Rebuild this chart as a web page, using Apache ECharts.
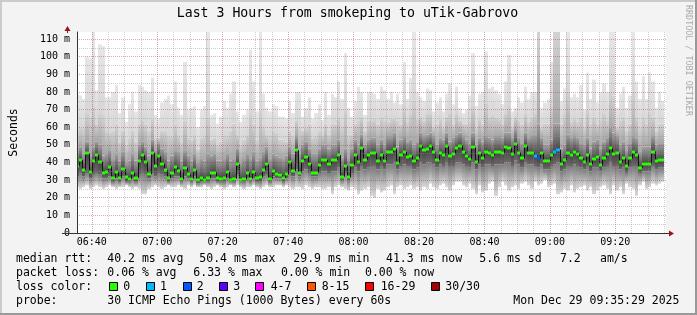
<!DOCTYPE html>
<html><head><meta charset="utf-8">
<script src="https://cdn.jsdelivr.net/npm/echarts@6/dist/echarts.min.js"></script>
<style>html,body{margin:0;padding:0;background:#f3f3f3;}#c{width:697px;height:315px;}</style>
</head><body><div id="c"></div>
<script>
// ---------------- data ----------------
const firstSampleMinute = 6 * 60 + 35;          // 06:35 (each sample = 60 s)
const viewStart = 6 * 60 + 35 + 29 / 60;        // 06:35:29
const viewEnd = 9 * 60 + 35 + 29 / 60;          // 09:35:29

const medianRtt = [
 38,41.5,35.8,45.3,34.5,40.7,44.3,40.4,34.3,34.7, 37.7,31.3,34.5,31.1,36.2,31.6,30.7,34.1,31.3,40.7, 44,40.4,33.4,45.5,37.9,43.4,39.2,35.8,31.1,34.1,
 37.3,35.4,30.5,37,33.7,30.9,35.6,29.8,31.3,30.3, 31.1,34.3,34.3,31.3,30.9,31.3,34.7,30.1,30.9,39.2, 30.1,30.5,34.1,30.9,34.5,31.3,31.6,35.6,39,30.7,
 35,33.7,32.8,31.3,33.2,40,35,47,34.3,41.1, 43.2,39.2,34.3,34.3,38.7,41.5,41.3,39.2,41.3,41.5, 44.2,32,38.1,31.5,38.8,44,40,48,41.5,44,
 45.3,45.3,41.1,44.5,40.7,45.9,45.9,47.8,39.8,44.2, 46,43,43.8,40.7,42.6,49.1,47,47.8,49.1,46, 41.5,45.3,44.5,49.1,43.8,44.9,48,49.5,45.9,43.8,
 42,48.5,40,45.3,42.6,46,45.5,44,46,46, 45.5,48.7,48.1,44.9,50.4,45.5,42.4,49.3,45.3,45.3, 43.8,42.3,45.1,41.1,41.1,44.3,46,47.2,39.2,41.3,
 45.5,44.5,46,44.9,42.3,40.2,44.5,39,42,43.2, 38.3,42.8,44.9,48,44.7,45.5,40,42.3,38.1,42.3, 45.7,44.5,37,39.4,39.4,39.4,46.2,40.6,41.3,41.3
];
const minRtt = [
 26,25,26,27,25,26,27,26,25,26, 27,26,25,26,26,27,26,25,26,25, 22,22,25,26,27,26,25,26,27,26,
 26,27,26,25,27,26,27,26,26,27, 26,25,26,27,26,25,26,27,26,27, 26,25,26,26,27,26,25,26,27,26,
 26,27,27,26,27,26,25,26,26,25, 27,26,25,26,26,25,25,26,22,26, 27,26,25,24,26,25,22,24,25,26,
 21,20,25,23,24,26,27,22,26,27, 25,26,27,25,26,24,26,25,28,26, 25,27,28,26,24,27,29,29,27,26,
 28,25,22,27,23,24,28,29,21,26, 29,27,24,26,27,25,28,29,27,25, 29,27,28,30,26,27,28,22,23,25,
 24,27,23,25,26,27,24,26,22,24, 26,27,25,22,27,24,26,22,28,26, 25,21,27,29,25,26,28,27,28,29
];
const p25Rtt = [
 32,34,32,34,31,33,34,33,31,31, 32,29,31,29,32,29,29,31,29,33, 34,33,31,34,32,34,33,32,29,31,
 32,32,29,32,31,29,32,28,29,29, 29,31,31,29,29,29,31,29,29,33, 29,29,31,29,31,29,29,32,33,29,
 32,31,31,29,31,34,32,36,32,35, 36,34,32,32,34,35,35,34,35,35, 37,30,34,30,34,37,35,38,36,37,
 38,38,36,38,36,39,39,40,36,38, 39,38,38,36,37,40,39,40,40,39, 37,39,38,40,38,38,40,40,39,38,
 37,40,36,39,37,39,39,38,39,39, 39,40,40,38,41,39,37,40,39,39, 38,37,39,36,36,38,39,40,35,36,
 38,38,39,38,37,36,38,35,37,37, 35,37,38,40,38,38,36,37,34,37, 38,38,34,35,35,35,38,36,37,37
];
const p75Rtt = [
 46,49,45,52,44,49,52,50,44,45, 47,42,45,41,46,40,41,45,41,50, 52,49,44,53,47,51,48,46,41,44,
 47,46,41,47,44,41,45,40,42,41, 45,44,45,41,41,42,45,41,42,48, 40,42,45,42,46,41,43,46,49,42,
 45,44,43,42,44,49,45,55,45,50, 52,48,45,45,48,50,50,48,50,50, 53,43,48,42,48,53,50,56,50,53,
 54,54,50,53,50,55,55,57,49,53, 55,52,53,50,52,57,55,56,57,55, 50,54,53,57,52,54,56,57,55,53,
 51,57,50,54,52,55,54,53,55,55, 54,57,57,54,59,54,51,57,54,55, 56,62,54,50,50,53,62,62,48,50,
 56,54,55,54,51,50,54,48,52,53, 48,52,54,60,57,55,50,52,47,51, 55,54,46,49,49,49,55,50,51,51
];
const p90Rtt = [
 58,60,60,68,66,72,62,68,67,58, 57,58,62,52,58,50,54,58,52,62, 64,62,58,65,54,54,58,58,56,55,
 62,56,52,64,54,53,56,48,54,55, 66,53,54,50,52,55,55,58,62,56, 50,53,56,68,62,53,70,60,56,55,
 58,57,53,53,52,58,55,64,60,58, 60,62,54,55,58,56,62,56,62,62, 66,60,70,56,56,62,64,66,58,64,
 64,65,62,66,64,63,65,65,64,62, 72,63,68,75,65,66,64,68,68,60, 62,65,60,66,68,62,68,64,62,62,
 63,72,60,65,62,74,66,67,66,65, 62,68,72,60,66,64,62,68,63,66, 68,114,60,62,62,72,114,114,62,68,
 80,63,65,63,66,60,70,62,66,62, 64,68,64,80,78,60,64,66,58,62, 80,66,60,66,62,68,66,58,62,62
];
const maxRtt = [
 79,78,76,100,99,114,81,107,106,77, 77,80,84,68,77,63,73,80,69,84, 83,81,80,88,67,65,74,76,78,73,
 86,71,67,97,70,71,72,60,70,72, 114,67,68,62,66,75,71,79,86,69, 63,67,70,104,86,69,114,79,71,69,
 73,72,66,66,65,75,68,80,80,66, 71,77,65,68,73,64,80,67,79,77, 86,76,102,71,66,75,83,80,67,80,
 80,79,76,83,81,76,80,74,79,73, 97,76,88,114,80,77,75,82,81,69, 74,77,69,79,85,73,83,71,68,70,
 78,102,72,79,80,103,82,83,81,79, 73,86,101,69,71,77,74,83,76,80, 80,114,71,74,76,97,114,114,75,82,
 114,77,79,77,84,70,91,76,87,74, 80,85,80,114,114,71,79,83,71,78, 114,86,76,89,76,91,86,71,80,75
];
// samples with lost pings (index into the arrays) and how many pings were lost
const lossSampleIndex = [140, 141, 146, 147];
const lossSampleCount = [1, 2, 1, 1];

const xTickMinutes = [400, 420, 440, 460, 480, 500, 520, 540, 560];
const xTickLabels = ['06:40','07:00','07:20','07:40','08:00','08:20','08:40','09:00','09:20'];
const yTicks = [0, 10, 20, 30, 40, 50, 60, 70, 80, 90, 100, 110];
const yTickLabels = ['0','10 m','20 m','30 m','40 m','50 m','60 m','70 m','80 m','90 m','100 m','110 m'];

const lossLegendLabels = ['0','1','2','3','4-7','8-15','16-29','30/30'];
const lossLegendColors = ['#26ff00','#00b8ff','#0059ff','#5e00ff','#ff00fe','#ff5500','#ff0000','#a10000'];
const statRow1 = ['median rtt:','40.2 ms avg','50.4 ms max','29.9 ms min','41.3 ms now','5.6 ms sd','7.2','am/s'];
const statRow2 = ['packet loss:','0.06 % avg','6.33 % max','0.00 % min','0.00 % now'];
const probeRow = ['probe:','30 ICMP Echo Pings (1000 Bytes) every 60s','Mon Dec 29 09:35:29 2025'];
const titleText = 'Last 3 Hours from smokeping to uTik-Gabrovo';

// ---------------- build ----------------
const MONO = 'DejaVu Sans Mono';
function lossColor(n) {
  if (n <= 0) return lossLegendColors[0];
  if (n === 1) return lossLegendColors[1];
  if (n === 2) return lossLegendColors[2];
  if (n === 3) return lossLegendColors[3];
  if (n <= 7) return lossLegendColors[4];
  if (n <= 15) return lossLegendColors[5];
  if (n <= 29) return lossLegendColors[6];
  return lossLegendColors[7];
}
const lossBySample = medianRtt.map(() => 0);
lossSampleIndex.forEach((idx, k) => { lossBySample[idx] = lossSampleCount[k]; });

const smokeData = medianRtt.map((m, i) => {
  const t0 = firstSampleMinute + i, t1 = t0 + 1;
  const lo = Math.min(minRtt[i], m);
  const q1 = Math.min(Math.max(p25Rtt[i], lo), m);
  const q3 = Math.max(p75Rtt[i], m);
  const q9 = Math.max(p90Rtt[i], q3);
  const hi = Math.max(maxRtt[i], q9);
  return [t0, t1, lo, q1, m, q3, q9, hi];
});
const medData = medianRtt.map((m, i) => [firstSampleMinute + i, firstSampleMinute + i + 1, m, i > 0 ? medianRtt[i - 1] : m, lossBySample[i]]);

const G = echarts.graphic;
const grad = (top, bottom) => new G.LinearGradient(0, 0, 0, 1, [{offset: 0, color: top}, {offset: 1, color: bottom}]);
const bandFills = [
  grad('#7a7a7a', '#dadada'),  // min -> p25
  grad('#424242', '#6a6a6a'),  // p25 -> median
  grad('#a2a2a2', '#484848'),  // median -> p75
  grad('#d2d2d2', '#a6a6a6'),  // p75 -> p90
  grad('#e6e6e6', '#d6d6d6')   // p90 -> max
];

function renderSmoke(params, api) {
  const t0 = api.value(0), t1 = api.value(1);
  const x0 = Math.round(api.coord([t0, 0])[0]);
  const x1 = Math.round(api.coord([t1, 0])[0]);
  const vals = [api.value(2), api.value(3), api.value(4), api.value(5), api.value(6), api.value(7)];
  const ys = vals.map(v => api.coord([t0, v])[1]);
  const children = [];
  for (let b = 0; b < 5; b++) {
    const yTop = ys[b + 1], yBot = ys[b];
    if (yBot - yTop <= 0) continue;
    children.push({type: 'rect', shape: {x: x0, y: yTop, width: x1 - x0, height: yBot - yTop}, style: {fill: bandFills[b]}});
  }
  return {type: 'group', children};
}
function renderMedian(params, api) {
  const t0 = api.value(0), t1 = api.value(1), m = api.value(2), pm = api.value(3), loss = api.value(4);
  const p0 = api.coord([t0, m]), p1 = api.coord([t1, m]), pp = api.coord([t0, pm]);
  const x0 = Math.round(p0[0]), x1 = Math.round(p1[0]);
  return {type: 'group', children: [
    {type: 'line', shape: {x1: x0 + 0.5, y1: pp[1], x2: x0 + 0.5, y2: p0[1]}, style: {stroke: '#111111', lineWidth: 1}},
    {type: 'rect', shape: {x: x0, y: Math.round(p0[1]) - 1.5, width: x1 - x0, height: 3}, style: {fill: lossColor(loss)}}
  ]};
}

const minorX = [];
for (let t = 400; t <= 575; t += 5) if (t % 20 !== 0) minorX.push(t);
const minorY = [5, 15, 25, 35, 45, 55, 65, 75, 85, 95, 105];

const majorLine = {color: 'rgba(150,40,40,0.38)', width: 1, type: [1, 1]};
const minorLine = {color: 'rgba(140,140,140,0.42)', width: 1, type: [1, 1]};

const GL = 67, GT = 32, GW = 599, GH = 201;
const textStyle = (extra) => Object.assign({fontFamily: MONO, fill: '#000'}, extra);

const graphics = [
  {type: 'rect', shape: {x: 0, y: 0, width: 697, height: 2}, style: {fill: '#cbcbcb'}, z: 100},
  {type: 'rect', shape: {x: 0, y: 0, width: 2, height: 315}, style: {fill: '#cbcbcb'}, z: 100},
  {type: 'rect', shape: {x: 0, y: 313, width: 697, height: 2}, style: {fill: '#999999'}, z: 100},
  {type: 'rect', shape: {x: 695, y: 0, width: 2, height: 315}, style: {fill: '#999999'}, z: 100},
  {type: 'text', x: 347.5, y: 14, style: textStyle({text: titleText, fontSize: 13.2, textAlign: 'center', textVerticalAlign: 'middle'}), z: 100},
  {type: 'text', x: 688, y: 5, rotation: -Math.PI / 2, style: textStyle({text: 'RRDTOOL / TOBI OETIKER', fontSize: 8.4, fill: '#aaaaaa', textAlign: 'left', textVerticalAlign: 'middle'}), z: 100},
  // axis extensions and arrows
  {type: 'line', shape: {x1: GL + 0.5, y1: GT + 1, x2: GL + 0.5, y2: GT - 3}, style: {stroke: '#333', lineWidth: 1}, z: 100},
  {type: 'polygon', shape: {points: [[GL + 0.5, GT - 6], [GL - 2.5, GT - 1], [GL + 3.5, GT - 1]]}, style: {fill: '#a01010'}, z: 100},
  {type: 'line', shape: {x1: GL - 5, y1: GT + GH + 0.5, x2: GL + GW + 3, y2: GT + GH + 0.5}, style: {stroke: '#333', lineWidth: 1}, z: 100},
  {type: 'polygon', shape: {points: [[GL + GW + 8, GT + GH + 0.5], [GL + GW + 3, GT + GH - 2.5], [GL + GW + 3, GT + GH + 3.5]]}, style: {fill: '#a01010'}, z: 100}
];
const legendFont = 11.5;
const row1X = [16, 107.3, 199.3, 293.3, 386, 479.3, 560, 600];
statRow1.forEach((t, i) => graphics.push({type: 'text', x: row1X[i], y: 259.3, style: textStyle({text: t, fontSize: legendFont, textVerticalAlign: 'middle'}), z: 100}));
const row2X = [16, 107.3, 193.3, 281, 365];
statRow2.forEach((t, i) => graphics.push({type: 'text', x: row2X[i], y: 273.3, style: textStyle({text: t, fontSize: legendFont, textVerticalAlign: 'middle'}), z: 100}));
graphics.push({type: 'text', x: 16, y: 286.7, style: textStyle({text: 'loss color:', fontSize: legendFont, textVerticalAlign: 'middle'}), z: 100});
const boxX = [108.7, 145.7, 182.7, 219, 255.3, 306.7, 365.3, 430.7];
const boxLabelX = [123.3, 160, 196.7, 233.3, 270.7, 321.7, 380.7, 445.3];
lossLegendLabels.forEach((lab, i) => {
  graphics.push({type: 'rect', shape: {x: Math.round(boxX[i]) + 0.5, y: 282.5, width: 8, height: 8}, style: {fill: lossLegendColors[i], stroke: '#000', lineWidth: 1}, z: 100});
  graphics.push({type: 'text', x: boxLabelX[i], y: 286.7, style: textStyle({text: lab, fontSize: legendFont, textVerticalAlign: 'middle'}), z: 100});
});
const row4X = [16, 107.3, 513.3];
probeRow.forEach((t, i) => graphics.push({type: 'text', x: row4X[i], y: 301, style: textStyle({text: t, fontSize: legendFont, textVerticalAlign: 'middle'}), z: 100}));

const chart = echarts.init(document.getElementById('c'), null, {renderer: 'canvas'});
chart.setOption({
  backgroundColor: '#f3f3f3',
  animation: false,
  grid: {left: GL, top: GT, width: GW, height: GH, show: true, backgroundColor: '#ffffff', borderWidth: 0, containLabel: false},
  xAxis: [
    {type: 'value', min: viewStart, max: viewEnd, z: 5,
     axisLine: {show: true, onZero: false, lineStyle: {color: '#333', width: 1}},
     axisTick: {show: false, customValues: xTickMinutes},
     axisLabel: {customValues: xTickMinutes, margin: 4, fontFamily: MONO, fontSize: 10, color: '#000',
                 formatter: v => xTickLabels[xTickMinutes.indexOf(v)] || ''},
     splitLine: {show: true, lineStyle: majorLine}},
    {type: 'value', min: viewStart, max: viewEnd, z: 4, position: 'bottom',
     axisLine: {show: false}, axisLabel: {show: false},
     axisTick: {show: false, customValues: minorX},
     splitLine: {show: true, lineStyle: minorLine}}
  ],
  yAxis: [
    {type: 'value', min: 0, max: 114, z: 5,
     name: 'Seconds', nameLocation: 'middle', nameRotate: 90, nameGap: 57,
     nameTextStyle: {fontFamily: MONO, fontSize: 11.5, color: '#000'},
     axisLine: {show: true, lineStyle: {color: '#333', width: 1}},
     axisTick: {show: false, customValues: yTicks},
     axisLabel: {customValues: yTicks, margin: 7, fontFamily: MONO, fontSize: 10, color: '#000',
                 formatter: v => yTickLabels[yTicks.indexOf(v)] || ''},
     splitLine: {show: true, lineStyle: majorLine}},
    {type: 'value', min: 0, max: 114, z: 4, position: 'left',
     axisLine: {show: false}, axisLabel: {show: false},
     axisTick: {show: false, customValues: minorY},
     splitLine: {show: true, lineStyle: minorLine}}
  ],
  series: [
    {type: 'custom', name: 'smoke', xAxisIndex: 0, yAxisIndex: 0, clip: true, z: 2, silent: true,
     renderItem: renderSmoke, data: smokeData},
    {type: 'custom', name: 'median', xAxisIndex: 0, yAxisIndex: 0, clip: true, z: 3, silent: true,
     renderItem: renderMedian, data: medData}
  ],
  graphic: graphics
});
</script></body></html>
